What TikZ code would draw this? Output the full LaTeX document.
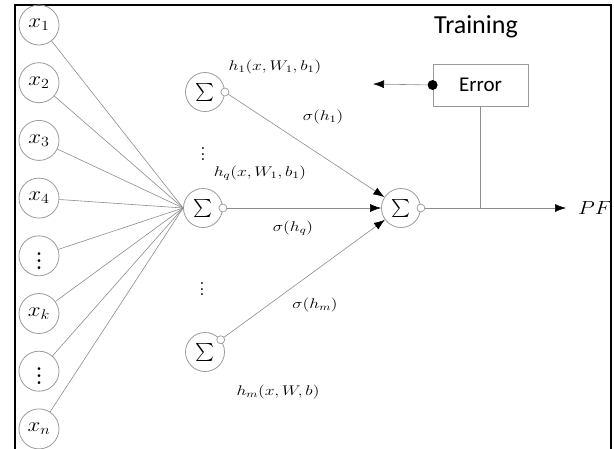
\documentclass[tikz,border=0pt]{standalone}
\usepackage{fix-cm}
\usepackage{fontspec}
\usepackage{graphicx}
\usetikzlibrary{arrows.meta}
\newfontfamily\calib{Carlito}
\newcommand{\wm}[1]{\scalebox{1.25}[1]{$#1$}}
\newcommand{\wx}[1]{\scalebox{1.15}[1]{$#1$}}
\newcommand{\bigsum}{\scalebox{1.8}{$\sum$}}
\newcommand{\mydots}[1]{\scalebox{#1}{$\vdots$}}
\definecolor{cgray}{HTML}{9A9A9A}
\definecolor{lgray}{HTML}{8C8C8C}
\tikzset{
 inp/.style={circle,draw=cgray,line width=0.8pt,minimum size=40pt,inner sep=0pt,font=\fontsize{20}{22}\selectfont},
 sumn/.style={circle,draw=cgray,line width=0.8pt,minimum size=39pt,inner sep=0pt},
 port/.style={circle,draw=cgray,line width=0.7pt,minimum size=8pt,inner sep=0pt,fill=white},
 conn/.style={draw=lgray,line width=0.6pt},
 arr/.style={conn,-{Latex[length=11pt,width=8pt,color=black]}},
 lab/.style={inner sep=0pt,font=\fontsize{14}{16}\selectfont},
 txt/.style={inner sep=0pt,font=\calib\fontsize{21}{24}\selectfont},
}
\begin{document}
\begin{tikzpicture}[x=1pt,y=-1pt]
\useasboundingbox (0,0) rectangle (614,448);
% frame
\draw[line width=2pt] (15,449) -- (15,5) -- (611,5) -- (611,449);
% input nodes
\node[inp] (x1) at (39,25) {\wx{x_1}};
\node[inp] (x2) at (39,82.7) {\wx{x_2}};
\node[inp] (x3) at (39,140.4) {\wx{x_3}};
\node[inp] (x4) at (39,198.1) {\wx{x_4}};
\node[inp] (xd1) at (39,255.8) {\mydots{1.7}};
\node[inp] (xk) at (39,313.5) {\wx{x_k}};
\node[inp] (xd2) at (39,371.2) {\mydots{1.7}};
\node[inp] (xn) at (39,428.9) {\wx{x_n}};
% sum nodes
\node[sumn] (s1) at (205,92) {\bigsum};
\node[sumn] (sq) at (203,208) {\bigsum};
\node[sumn] (sm) at (205,352) {\bigsum};
\node[sumn] (so) at (401,208) {\bigsum};
% input connectors
\foreach \n in {x1,x2,x3,x4,xd1,xk,xd2,xn}
  \draw[conn] (\n) -- (sq.west);
% arrows to output
\draw[arr] (s1.east) -- (so);
\draw[arr] (sq.east) -- (so);
\draw[arr] (sm.38) -- (so);
% ports
\node[port] (o1) at (s1.east) {};
\node[port] (oq) at (sq.east) {};
\node[port] (om) at (sm.38) {};
% output
\node[inner sep=0pt,font=\fontsize{19}{21}\selectfont] (pf) at (595,208) {\scalebox{1.15}[1]{$PF$}};
\draw[arr] (so.east) -- ([xshift=-12pt]pf.west);
\node[port] (oo) at (so.east) {};
% error box
\node[draw=cgray,line width=0.8pt,minimum width=95pt,minimum height=42pt,inner sep=0pt,font=\calib\fontsize{21}{24}\selectfont] (err) at (480.5,85) {Error};
\draw[conn] (err.south) -- (err.south |- so.east);
\coordinate (fb) at (373,84);
\draw[arr] (err.west) -- (fb);
\fill (err.west) circle (5pt);
\node[txt,font=\calib\fontsize{26}{29}\selectfont] (train) at (476,27) {Training};
% labels
\node[lab] (lh1) at (275,67) {\wm{h_1(x,W_1,b_1)}};
\node[lab] (ls1) at (323,117) {\wm{\sigma(h_1)}};
\node[lab] (dt1) at (203,150) {\mydots{1.4}};
\node[lab] (lhq) at (260,173) {\wm{h_q(x,W_1,b_1)}};
\node[lab] (lsq) at (293,228) {\wm{\sigma(h_q)}};
\node[lab] (dt2) at (202,285) {\mydots{1.4}};
\node[lab] (lsm) at (315,305) {\wm{\sigma(h_m)}};
\node[lab] (lhm) at (278,392) {\wm{h_m(x,W,b)}};
\end{tikzpicture}
\end{document}
